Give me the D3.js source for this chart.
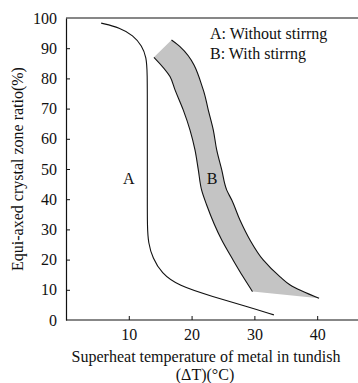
<!DOCTYPE html>
<meta charset="utf-8">
<script src="https://d3js.org/d3.v7.min.js"></script>
<style>
body { margin: 0; background: #fff; }
text { font-family: "Liberation Serif", "DejaVu Serif", serif; fill: #111; }
.axis path, .axis line { stroke: #111; }
.axis text { font-size: 16px; font-family: "Liberation Serif", serif; }
</style>
<body>
<script>

// curve A: without stirring
var curveA = [
  [5.6, 98.3], [8.6, 96.8], [10.7, 94.2], [12.1, 90.8], [12.8, 87.0],
  [12.95, 82], [12.95, 70], [12.95, 55], [12.95, 40], [12.95, 31],
  [13.1, 25.5], [13.8, 20.5], [15.2, 15.5], [17.8, 11.4],
  [23.4, 7.7], [28.8, 4.5], [33.1, 1.7]
];

// band B: with stirring, right (upper) and left (lower) edges
var bandRight = [
  [16.8, 92.7], [18.15, 90.5], [21.86, 76.2], [22.66, 69.5], [23.46, 62.9],
  [24.0, 56.3], [24.8, 49.7], [25.6, 43.0], [26.4, 39.7], [27.7, 33.1],
  [29.3, 26.5], [31.4, 19.9], [34.1, 14.3], [35.7, 11.6], [40.3, 7.2]
];
var bandLeft = [
  [14.0, 87.0], [16.56, 80.6], [17.36, 76.2], [18.68, 69.5], [19.75, 62.9],
  [20.54, 56.3], [21.07, 49.7], [21.6, 43.0], [22.4, 38.1], [24.8, 26.5],
  [26.6, 19.9], [28.2, 14.3], [29.7, 9.4]
];

var xTicks = [10, 20, 30, 40];
var yTicks = [0, 10, 20, 30, 40, 50, 60, 70, 80, 90, 100];
var legendLines = ["A: Without stirrng", "B: With stirrng"];

var W = 358, H = 383;
var svg = d3.select("body").append("svg")
    .attr("width", W).attr("height", H);

var x = d3.scaleLinear().domain([0, 46.5]).range([66, 358]);
var y = d3.scaleLinear().domain([0, 100]).range([320, 18]);

// frame: top line
svg.append("line")
    .attr("x1", x(0)).attr("x2", W)
    .attr("y1", y(100)).attr("y2", y(100))
    .attr("stroke", "#111").attr("stroke-width", 1.2);

var xAxis = svg.append("g")
    .attr("class", "axis")
    .attr("transform", "translate(0," + y(0) + ")")
    .call(d3.axisBottom(x).tickValues(xTicks).tickSizeInner(-4).tickSizeOuter(0).tickPadding(9));
xAxis.select(".domain").attr("d", "M" + x(0) + ",0H" + W).attr("stroke-width", 1.2);

var yAxis = svg.append("g")
    .attr("class", "axis")
    .attr("transform", "translate(" + x(0) + ",0)")
    .call(d3.axisLeft(y).tickValues(yTicks).tickSizeInner(-4).tickSizeOuter(0).tickPadding(9));
yAxis.select(".domain").attr("stroke-width", 1.2);
yAxis.selectAll(".tick").filter(function(d) { return d === 0 || d === 100; }).select("line").remove();

var line = d3.line()
    .x(function(d) { return x(d[0]); })
    .y(function(d) { return y(d[1]); })
    .curve(d3.curveMonotoneY);

// band fill
var leftRev = bandLeft.slice().reverse();
var leftPath = line(leftRev);
svg.append("path")
    .attr("d", line(bandRight) + "L" + leftPath.slice(1) + "Z")
    .attr("fill", "#c4c4c4")
    .attr("stroke", "none");

svg.append("path").attr("d", line(bandRight))
    .attr("fill", "none").attr("stroke", "#111").attr("stroke-width", 1.1);
svg.append("path").attr("d", line(bandLeft))
    .attr("fill", "none").attr("stroke", "#111").attr("stroke-width", 1.1);

svg.append("path").attr("d", line.curve(d3.curveBasis)(curveA))
    .attr("fill", "none").attr("stroke", "#111").attr("stroke-width", 1.1);

// curve labels
svg.append("text").attr("x", x(10)).attr("y", 184)
    .attr("text-anchor", "middle").style("font-size", "16px").text("A");
svg.append("text").attr("x", 212).attr("y", 184)
    .attr("text-anchor", "middle").style("font-size", "16px").text("B");

// legend
svg.selectAll(".legend")
    .data(legendLines)
    .enter().append("text")
    .attr("class", "legend")
    .attr("x", 210)
    .attr("y", function(d, i) { return 38.5 + i * 20; })
    .style("font-size", "16px")
    .text(function(d) { return d; });

// axis titles
svg.append("text")
    .attr("transform", "translate(23,169) rotate(-90)")
    .attr("text-anchor", "middle")
    .style("font-size", "16px")
    .text("Equi-axed crystal zone ratio(%)");

svg.append("text")
    .attr("x", 206).attr("y", 362)
    .attr("text-anchor", "middle")
    .style("font-size", "16px")
    .text("Superheat temperature of metal in tundish");
svg.append("text")
    .attr("x", 205).attr("y", 380)
    .attr("text-anchor", "middle")
    .style("font-size", "16px")
    .text("(ΔT)(°C)");

</script>
</body>
